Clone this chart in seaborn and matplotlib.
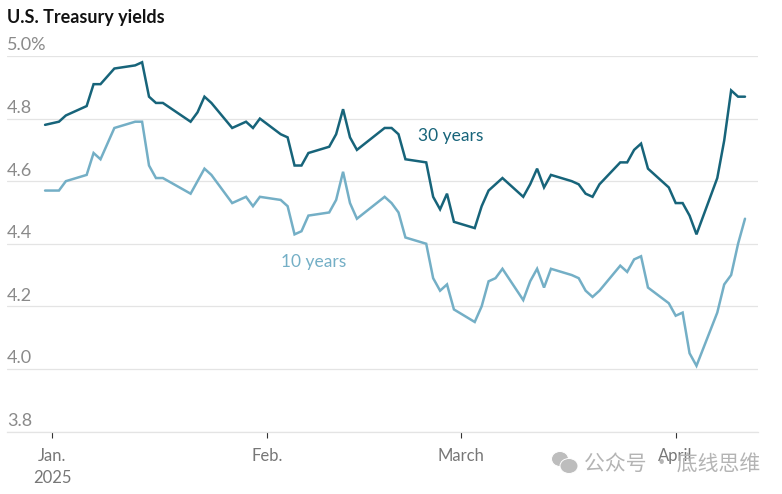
import pandas as pd
import seaborn as sns
import matplotlib.pyplot as plt
from matplotlib.patches import Ellipse
from matplotlib.transforms import ScaledTranslation

dates = [
    "2024-12-31", "2025-01-02", "2025-01-03", "2025-01-06", "2025-01-07", "2025-01-08", "2025-01-10",
    "2025-01-13", "2025-01-14", "2025-01-15", "2025-01-16", "2025-01-17", "2025-01-21", "2025-01-22",
    "2025-01-23", "2025-01-24", "2025-01-27", "2025-01-28", "2025-01-29", "2025-01-30", "2025-01-31",
    "2025-02-03", "2025-02-04", "2025-02-05", "2025-02-06", "2025-02-07", "2025-02-10", "2025-02-11",
    "2025-02-12", "2025-02-13", "2025-02-14", "2025-02-18", "2025-02-19", "2025-02-20", "2025-02-21",
    "2025-02-24", "2025-02-25", "2025-02-26", "2025-02-27", "2025-02-28", "2025-03-03", "2025-03-04",
    "2025-03-05", "2025-03-06", "2025-03-07", "2025-03-10", "2025-03-11", "2025-03-12", "2025-03-13",
    "2025-03-14", "2025-03-17", "2025-03-18", "2025-03-19", "2025-03-20", "2025-03-21", "2025-03-24",
    "2025-03-25", "2025-03-26", "2025-03-27", "2025-03-28", "2025-03-31", "2025-04-01", "2025-04-02",
    "2025-04-03", "2025-04-04", "2025-04-07", "2025-04-08", "2025-04-09", "2025-04-10", "2025-04-11",
]
yield_30y = [
    4.78, 4.79, 4.81, 4.84, 4.91, 4.91, 4.96,
    4.97, 4.98, 4.87, 4.85, 4.85, 4.79, 4.82,
    4.87, 4.85, 4.77, 4.78, 4.79, 4.77, 4.80,
    4.75, 4.74, 4.65, 4.65, 4.69, 4.71, 4.75,
    4.83, 4.74, 4.70, 4.77, 4.77, 4.75, 4.67,
    4.66, 4.55, 4.51, 4.56, 4.47, 4.45, 4.52,
    4.57, 4.59, 4.61, 4.55, 4.59, 4.64, 4.58,
    4.62, 4.60, 4.59, 4.56, 4.55, 4.59, 4.66,
    4.66, 4.70, 4.72, 4.64, 4.58, 4.53, 4.53,
    4.49, 4.43, 4.61, 4.73, 4.89, 4.87, 4.87,
]
yield_10y = [
    4.57, 4.57, 4.60, 4.62, 4.69, 4.67, 4.77,
    4.79, 4.79, 4.65, 4.61, 4.61, 4.56, 4.60,
    4.64, 4.62, 4.53, 4.54, 4.55, 4.52, 4.55,
    4.54, 4.52, 4.43, 4.44, 4.49, 4.50, 4.54,
    4.63, 4.53, 4.48, 4.55, 4.53, 4.50, 4.42,
    4.40, 4.29, 4.25, 4.27, 4.19, 4.15, 4.20,
    4.28, 4.29, 4.32, 4.22, 4.28, 4.32, 4.26,
    4.32, 4.30, 4.29, 4.25, 4.23, 4.25, 4.33,
    4.31, 4.35, 4.36, 4.26, 4.21, 4.17, 4.18,
    4.05, 4.01, 4.18, 4.27, 4.30, 4.40, 4.48,
]
series_names = ["30 years", "10 years"]
series_colors = ["#17647a", "#74afc6"]
y_ticks = [3.8, 4.0, 4.2, 4.4, 4.6, 4.8, 5.0]
y_labels = ["3.8", "4.0", "4.2", "4.4", "4.6", "4.8", "5.0%"]
x_ticks = ["2025-01-01", "2025-02-01", "2025-03-01", "2025-04-01"]
x_labels = ["Jan.\n2025", "Feb.", "March", "April"]

W, H = 782, 494
DAY_PX = 6.93
JAN1_PX = 52
LEFT, RIGHT, TOP, BOTTOM = 7, 758, 56, 431.5
FONT = "Lato"

sns.set_theme(style="white")
plt.rcParams["font.family"] = [FONT, "DejaVu Sans"]

df = pd.DataFrame({
    "date": pd.to_datetime(dates * 2),
    "value": yield_30y + yield_10y,
    "series": [series_names[0]] * len(dates) + [series_names[1]] * len(dates),
})

fig = plt.figure(figsize=(W / 100, H / 100), dpi=100, facecolor="white")
ax = fig.add_axes([LEFT / W, (H - BOTTOM) / H, (RIGHT - LEFT) / W, (BOTTOM - TOP) / H])

sns.lineplot(data=df, x="date", y="value", hue="series", hue_order=series_names,
             palette=series_colors, linewidth=1.8, legend=False, ax=ax, zorder=3,
             solid_joinstyle="miter")

jan1 = pd.Timestamp("2025-01-01")
ax.set_xlim(jan1 + pd.Timedelta(days=(LEFT - JAN1_PX) / DAY_PX),
            jan1 + pd.Timedelta(days=(RIGHT - JAN1_PX) / DAY_PX))
ax.set_ylim(3.8, 5.0)
ax.set_xlabel("")
ax.set_ylabel("")

for s in ["top", "left", "right"]:
    ax.spines[s].set_visible(False)
ax.spines["bottom"].set_color("#e4e4e4")
ax.spines["bottom"].set_linewidth(0.9)

ax.set_yticks(y_ticks)
ax.set_yticklabels(y_labels)
ax.tick_params(axis="y", length=0, pad=0, labelsize=13, labelcolor="#8a8a8a")
offset = ScaledTranslation(0, 2.5 / 100, fig.dpi_scale_trans)
for lab in ax.get_yticklabels():
    lab.set_horizontalalignment("left")
    lab.set_verticalalignment("bottom")
    lab.set_transform(lab.get_transform() + offset)
ax.yaxis.grid(True, color="#e4e4e4", linewidth=0.9)
ax.set_axisbelow(True)

ax.set_xticks(pd.to_datetime(x_ticks))
ax.set_xticklabels(x_labels, linespacing=1.45)
ax.tick_params(axis="x", length=4.5, width=0.8, color="#333333", pad=7.5,
               labelsize=12, labelcolor="#777777", bottom=True)

ax.text(pd.Timestamp("2025-02-22 18:00"), 4.745, series_names[0], color=series_colors[0],
        fontsize=12.5, va="center", ha="left")
ax.text(pd.Timestamp("2025-02-03"), 4.342, series_names[1], color=series_colors[1],
        fontsize=12.5, va="center", ha="left")

fig.text(LEFT / W, 1 - 17 / H, "U.S. Treasury yields", fontsize=13, fontweight="bold",
         color="#121212", va="center", ha="left")

# watermark over the lower right corner
fig.text(584 / W, 1 - 465 / H, "公众号 · 底线思维", fontsize=15, color="#b4b4b4", va="center",
         ha="left", family=["Noto Sans CJK SC", "DejaVu Sans"], zorder=5)
for cx, cy, rw, rh in [(560, 459, 17, 15), (569, 466, 18, 15)]:
    fig.add_artist(Ellipse((cx / W, 1 - cy / H), rw / W, rh / H, transform=fig.transFigure,
                           facecolor="#bdbdbd", edgecolor="white", linewidth=0.7, zorder=5))

fig.savefig("out.png", dpi=100, facecolor="white")
